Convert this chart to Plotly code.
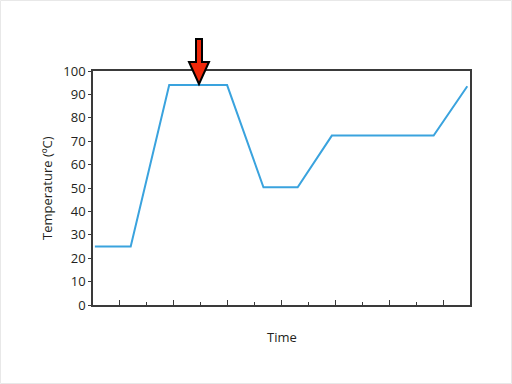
import plotly.graph_objects as go

# ---- data ----
time_pts = [0.07, 1.4, 2.83, 4.98, 6.33, 7.6, 8.87, 12.65, 13.9]
temperature = [25, 25, 94, 94, 50.3, 50.3, 72.4, 72.4, 93.5]
y_ticks = [0, 10, 20, 30, 40, 50, 60, 70, 80, 90, 100]
x_label = "Time"
y_label = "Temperature (ºC)"

W, H = 512, 384
L, R, T, B = 93, 42, 71, 79
PW, PH = W - L - R, H - T - B


def px(x):
    return (x - L) / PW


def py(y):
    return (H - B - y) / PH


FONT = "Open Sans"
AX = "#3a3a3a"

fig = go.Figure()
fig.add_trace(go.Scatter(x=time_pts, y=temperature, mode="lines",
                         line=dict(color="#3aa3de", width=2), hoverinfo="skip"))

fig.update_layout(
    width=W, height=H, margin=dict(l=L, r=R, t=T, b=B),
    paper_bgcolor="white", plot_bgcolor="white", showlegend=False,
    font=dict(family=FONT, size=13, color="#231f20"),
    xaxis=dict(range=[0, 14], showgrid=False, zeroline=False,
               showline=True, linecolor=AX, linewidth=1.5, mirror=True,
               showticklabels=False, ticks="inside", tick0=1, dtick=2,
               ticklen=5, tickcolor=AX, tickwidth=1,
               minor=dict(dtick=1, tick0=0, ticks="inside", ticklen=3,
                          tickcolor=AX, tickwidth=1)),
    yaxis=dict(range=[0, 100], showgrid=False, zeroline=False,
               showline=True, linecolor=AX, linewidth=1.5, mirror=True,
               tickvals=y_ticks, ticks="outside", ticklen=3, tickcolor=AX,
               tickwidth=1, tickfont=dict(size=13)),
)

fig.add_annotation(x=px(47), y=py(188), xref="paper", yref="paper",
                   text=y_label, showarrow=False, textangle=-90,
                   xanchor="center", yanchor="middle", font=dict(size=13))
fig.add_annotation(x=px(281.5), y=py(337), xref="paper", yref="paper",
                   text=x_label, showarrow=False,
                   xanchor="center", yanchor="middle", font=dict(size=13))

# arrow
pts = [(196, 39), (202, 39), (202, 62), (209, 62), (199, 84), (189, 62), (196, 62)]
path = "M " + " L ".join(f"{px(a):.5f},{py(b):.5f}" for a, b in pts) + " Z"
fig.add_shape(type="path", path=path, xref="paper", yref="paper",
              fillcolor="#f0280a", line=dict(color="black", width=2))

# faint page border
fig.add_shape(type="rect", xref="paper", yref="paper",
              x0=px(0.5), x1=px(511.5), y0=py(383.5), y1=py(0.5),
              line=dict(color="#e8e8e8", width=1), fillcolor="rgba(0,0,0,0)")

fig.write_html("out.html")
